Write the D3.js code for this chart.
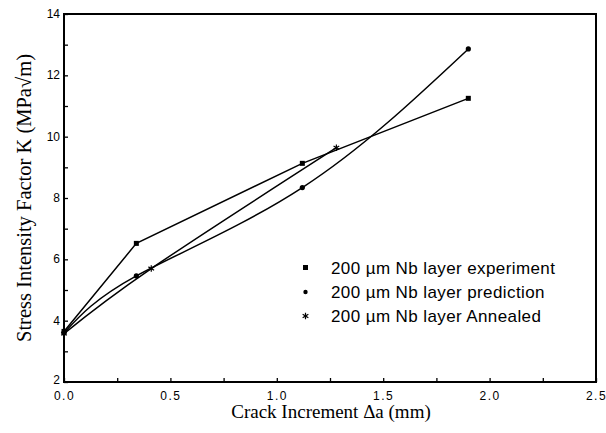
<!DOCTYPE html>
<html lang="en">
<head>
<meta charset="UTF-8">
<title>Stress Intensity Factor</title>
<script src="https://cdnjs.cloudflare.com/ajax/libs/d3/7.8.5/d3.min.js"></script>
<style>
  body { margin: 0; background: #fff; }
  .tick text { font-family: "Liberation Sans", Arial, sans-serif; }
  .title { font-family: "Liberation Serif", "Times New Roman", serif; }
  .legend text { font-family: "Liberation Sans", Arial, sans-serif; font-size: 17px; letter-spacing: 0.4px; }
</style>
</head>
<body>
<svg id="chart" width="606" height="433"></svg>
<script>
// crack increment (mm) and K (MPa sqrt m)
const expX = [0, 0.34, 1.12, 1.90];
const expY = [3.65, 6.52, 9.13, 11.25];
const predX = [0, 0.34, 1.12, 1.90];
const predY = [3.6, 5.46, 8.34, 12.86];
const annX = [0, 0.41, 1.28];
const annY = [3.58, 5.70, 9.64];
const legendLabels = ["200 \u00b5m Nb layer experiment", "200 \u00b5m Nb layer prediction", "200 \u00b5m Nb layer Annealed"];
const xTicks = [0, 0.5, 1.0, 1.5, 2.0, 2.5];
const yTicks = [2, 4, 6, 8, 10, 12, 14];

const svg = d3.select("#chart");
const mLeft = 64, mRight = 596, mTop = 14, mBottom = 382;

const x = d3.scaleLinear().domain([0, 2.5]).range([mLeft, mRight]);
const y = d3.scaleLinear().domain([2, 14]).range([mBottom, mTop]);

// frame
svg.append("rect")
  .attr("x", mLeft).attr("y", mTop)
  .attr("width", mRight - mLeft).attr("height", mBottom - mTop)
  .attr("fill", "none").attr("stroke", "#000").attr("stroke-width", 2);

// x axis, ticks pointing inward
const xAxis = svg.append("g").attr("transform", `translate(0,${mBottom})`)
  .call(d3.axisTop(x).tickValues(d3.range(0, 2.51, 0.25)).tickSize(4).tickFormat(""));
xAxis.select(".domain").remove();
svg.append("g").attr("transform", `translate(0,${mBottom})`)
  .call(d3.axisBottom(x).tickValues(xTicks).tickSize(0).tickPadding(9).tickFormat(d3.format(".1f")))
  .call(g => g.select(".domain").remove())
  .selectAll("text").attr("font-size", 12).attr("letter-spacing", "1.5px");

// y axis
const yAxis = svg.append("g").attr("transform", `translate(${mLeft},0)`)
  .call(d3.axisRight(y).ticks(12).tickSize(4).tickFormat(""));
yAxis.select(".domain").remove();
svg.append("g").attr("transform", `translate(${mLeft},0)`)
  .call(d3.axisLeft(y).tickValues(yTicks).tickSize(0).tickPadding(4).tickFormat(d3.format("d")))
  .call(g => g.select(".domain").remove())
  .selectAll("text").attr("font-size", 12).attr("dy", d => d === 2 ? "0.15em" : "0.3em");

svg.selectAll(".tick line").attr("stroke-width", 1.3);

// axis titles
svg.append("text").attr("class", "title").attr("font-size", 19)
  .attr("x", 331).attr("y", 418).attr("text-anchor", "middle")
  .text("Crack Increment \u0394a (mm)");
svg.append("text").attr("class", "title").attr("font-size", 20.5)
  .attr("transform", "translate(31,198) rotate(-90)").attr("text-anchor", "middle")
  .text("Stress Intensity Factor K (MPa\u221am)");

const pts = (xs, ys) => xs.map((v, i) => [v, ys[i]]);
const expPts = pts(expX, expY), predPts = pts(predX, predY), annPts = pts(annX, annY);

const lineLin = d3.line().x(d => x(d[0])).y(d => y(d[1]));
const lineCurve = d3.line().x(d => x(d[0])).y(d => y(d[1])).curve(d3.curveNatural);

svg.append("path").datum(expPts).attr("d", lineLin)
  .attr("fill", "none").attr("stroke", "#000").attr("stroke-width", 1.5);
svg.append("path").datum(predPts).attr("d", lineCurve)
  .attr("fill", "none").attr("stroke", "#000").attr("stroke-width", 1.5);
svg.append("path").datum(annPts).attr("d", lineCurve)
  .attr("fill", "none").attr("stroke", "#000").attr("stroke-width", 1.5);

// markers
svg.selectAll(".sq").data(expPts).enter().append("rect")
  .attr("x", d => x(d[0]) - 2.5).attr("y", d => y(d[1]) - 2.5)
  .attr("width", 5).attr("height", 5).attr("fill", "#000");
svg.selectAll(".ci").data(predPts).enter().append("circle")
  .attr("cx", d => x(d[0])).attr("cy", d => y(d[1])).attr("r", 2.6).attr("fill", "#000");
const star = d3.symbol().type(d3.symbolAsterisk).size(30);
svg.selectAll(".st").data(annPts).enter().append("path")
  .attr("transform", d => `translate(${x(d[0])},${y(d[1])})`)
  .attr("d", star).attr("fill", "none").attr("stroke", "#000").attr("stroke-width", 1.2);

// legend
const lg = svg.append("g").attr("class", "legend");
const rowY = [268, 292, 316];
lg.append("rect").attr("x", 303).attr("y", rowY[0] - 3).attr("width", 5).attr("height", 5).attr("fill", "#000");
lg.append("circle").attr("cx", 305.5).attr("cy", rowY[1]).attr("r", 2.2).attr("fill", "#000");
lg.append("path").attr("transform", `translate(305.5,${rowY[2]})`).attr("d", star)
  .attr("fill", "none").attr("stroke", "#000").attr("stroke-width", 1.2);
lg.selectAll("text").data(legendLabels).enter().append("text")
  .attr("x", 331).attr("y", (d, i) => rowY[i] + 6)
  .text(d => d);
</script>
</body>
</html>
